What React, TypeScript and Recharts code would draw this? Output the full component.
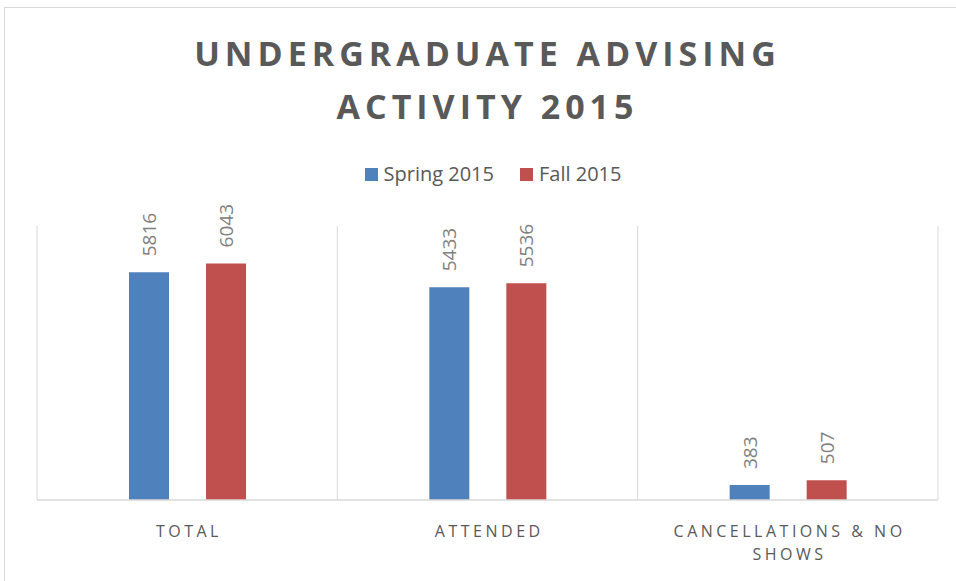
import { BarChart, Bar, XAxis, YAxis, CartesianGrid, LabelList } from 'recharts';

const categories = ['TOTAL', 'ATTENDED', 'CANCELLATIONS & NO SHOWS'];
const spring2015 = [5816, 5433, 383];
const fall2015 = [6043, 5536, 507];
const seriesNames = ['Spring 2015', 'Fall 2015'];
const seriesColors = ['#4f81bd', '#c0504d'];
const titleLines = ['UNDERGRADUATE ADVISING', 'ACTIVITY 2015'];

const data = categories.map((name, i) => ({
    name,
    spring: spring2015[i],
    fall: fall2015[i],
}));

const FONT = '"Open Sans", sans-serif';

// split long category names into lines of about 18 chars
function wrapWords(text: string, max: number) {
    const lines: string[] = [];
    let cur = '';
    text.split(' ').forEach((w) => {
        const next = cur ? cur + ' ' + w : w;
        if (next.length > max && cur) {
            lines.push(cur);
            cur = w;
        } else {
            cur = next;
        }
    });
    if (cur) lines.push(cur);
    return lines;
}

const CategoryTick = (props: any) => {
    const { x, y, payload } = props;
    const lines = wrapWords(String(payload.value), 18);
    return (
        <text x={x} y={y} textAnchor="middle" fill="#595959" fontSize={16} fontFamily={FONT} style={{ letterSpacing: '3.5px' }}>
            {lines.map((l, i) => (
                <tspan key={i} x={x + 1.75} dy={i === 0 ? 29 : 23}>
                    {l}
                </tspan>
            ))}
        </text>
    );
};

const ValueLabel = (props: any) => {
    const { x, y, width, value } = props;
    const cx = Number(x) + Number(width) / 2;
    const cy = Number(y) - 16;
    return (
        <text
            x={cx}
            y={cy}
            transform={`rotate(-90 ${cx} ${cy})`}
            textAnchor="start"
            dominantBaseline="central"
            fill="#808080"
            fontSize={19}
            fontFamily={FONT}
        >
            {value}
        </text>
    );
};

export default function App() {
    return (
        <div style={{ position: 'fixed', left: 0, top: 0, width: 956, height: 581, overflow: 'hidden', background: '#fff' }}>
            <div style={{ position: 'absolute', left: 4, top: 7, width: 990, height: 620, border: '1px solid #d9d9d9' }} />

            <div style={{ position: 'absolute', left: 0, top: 27, width: 975, textAlign: 'center', fontFamily: FONT, fontWeight: 700, fontSize: 34, lineHeight: '53px', color: '#595959', letterSpacing: '5px' }}>
                {titleLines.map((t) => (
                    <div key={t}>{t}</div>
                ))}
            </div>

            <div style={{ position: 'absolute', left: 0, top: 160, width: 986, display: 'flex', justifyContent: 'center', gap: 26, fontFamily: FONT, fontSize: 20, color: '#595959', lineHeight: '28px' }}>
                {seriesNames.map((s, i) => (
                    <div key={s} style={{ display: 'flex', alignItems: 'center' }}>
                        <span style={{ display: 'inline-block', width: 13, height: 13, background: seriesColors[i], marginRight: 6 }} />
                        {s}
                    </div>
                ))}
            </div>

            <div style={{ position: 'absolute', left: 0, top: 0 }}>
                <BarChart
                    width={956}
                    height={581}
                    data={data}
                    margin={{ top: 226, right: 18, left: 37, bottom: 21 }}
                    barSize={40}
                    barGap={37}
                >
                    <CartesianGrid
                        horizontal={false}
                        stroke="#d9d9d9"
                        verticalCoordinatesGenerator={({ offset }: any) =>
                            [0, 1, 2, 3].map((i) => offset.left + (i * offset.width) / categories.length)
                        }
                    />
                    <XAxis
                        dataKey="name"
                        height={60}
                        axisLine={{ stroke: '#d9d9d9', strokeWidth: 1.5 }}
                        tickLine={false}
                        interval={0}
                        tick={<CategoryTick />}
                    />
                    <YAxis hide domain={[0, 7000]} />
                    <Bar dataKey="spring" name={seriesNames[0]} fill={seriesColors[0]} isAnimationActive={false}>
                        <LabelList dataKey="spring" content={<ValueLabel />} />
                    </Bar>
                    <Bar dataKey="fall" name={seriesNames[1]} fill={seriesColors[1]} isAnimationActive={false}>
                        <LabelList dataKey="fall" content={<ValueLabel />} />
                    </Bar>
                </BarChart>
            </div>
        </div>
    );
}
